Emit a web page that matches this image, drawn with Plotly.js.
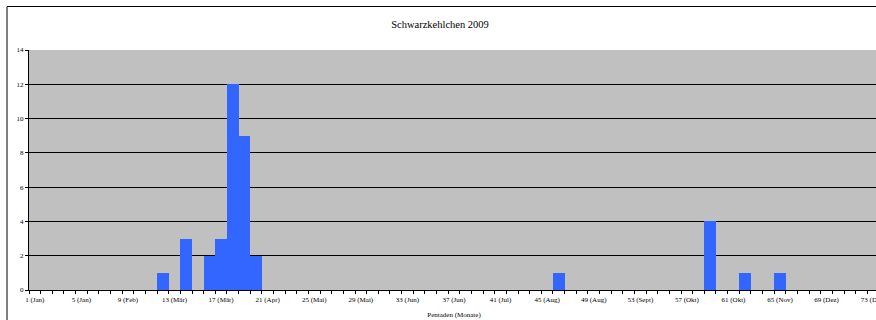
<!DOCTYPE html>
<html>
<head>
<meta charset="utf-8">
<script src="https://cdn.plot.ly/plotly-3.0.1.min.js"></script>
<style>
html,body{margin:0;padding:0;overflow:hidden;background:#fff;}
#chart{width:900px;height:320px;}
</style>
</head>
<body>
<div id="chart"></div>
<script>
// Pentads with observations and counts
const pentads = [12, 14, 16, 17, 18, 19, 20, 46, 59, 62, 65];
const counts  = [1, 3, 2, 3, 12, 9, 2, 1, 4, 1, 1];

// Tick labels (every 4th pentad)
const tickPentads = [1, 5, 9, 13, 17, 21, 25, 29, 33, 37, 41, 45, 49, 53, 57, 61, 65, 69, 73];
const tickLabels = ["1 (Jan)", "5 (Jan)", "9 (Feb)", "13 (Mär)", "17 (Mär)", "21 (Apr)", "25 (Mai)",
  "29 (Mai)", "33 (Jun)", "37 (Jun)", "41 (Jul)", "45 (Aug)", "49 (Aug)", "53 (Sept)", "57 (Okt)",
  "61 (Okt)", "65 (Nov)", "69 (Dez)", "73 (Dez)"];
const yTicks = [0, 2, 4, 6, 8, 10, 12, 14];

const font = {family: "Liberation Serif, Times New Roman, serif", color: "#000"};

const trace = {
  type: "bar",
  x: pentads,
  y: counts,
  width: 1,
  marker: {color: "#3366FF", line: {width: 0}},
  hoverinfo: "x+y"
};

const layout = {
  width: 900,
  height: 320,
  margin: {l: 29, r: 21, t: 50, b: 30, pad: 0},
  paper_bgcolor: "#ffffff",
  plot_bgcolor: "#C0C0C0",
  showlegend: false,
  title: {
    text: "Schwarzkehlchen 2009",
    font: Object.assign({}, font, {size: 10.5}),
    x: 440 / 900, xanchor: "center",
    y: 1 - 24.5 / 320, yanchor: "middle"
  },
  xaxis: {
    range: [0.5, 73.5],
    tickmode: "array",
    tickvals: tickPentads,
    ticktext: tickLabels,
    ticks: "",
    ticklabelstandoff: 3,
    showgrid: false,
    zeroline: false,
    showline: true,
    linecolor: "#000",
    linewidth: 1,
    tickfont: Object.assign({}, font, {size: 7}),
    tickangle: 0,
    minor: {tickmode: "linear", tick0: 0.5, dtick: 1, ticks: "outside", ticklen: 3, tickcolor: "#000", tickwidth: 1, showgrid: false},
    title: {text: "Pentaden (Monate)", font: Object.assign({}, font, {size: 7}), standoff: 8},
    fixedrange: true
  },
  yaxis: {
    range: [0, 14],
    tickmode: "array",
    tickvals: yTicks,
    ticks: "outside",
    ticklen: 3,
    tickcolor: "#000",
    tickwidth: 1,
    showgrid: true,
    gridcolor: "#000",
    gridwidth: 1,
    zeroline: false,
    showline: true,
    linecolor: "#000",
    linewidth: 1,
    tickfont: Object.assign({}, font, {size: 7}),
    fixedrange: true
  },
  shapes: [
    {type: "rect", xref: "paper", yref: "paper",
     x0: (7 - 29) / 850, x1: 1.2, y0: -0.3, y1: (290 - 6.5) / 240,
     line: {color: "#000", width: 1}, fillcolor: "rgba(0,0,0,0)", layer: "below"}
  ],
  bargap: 0
};

Plotly.newPlot("chart", [trace], layout, {displayModeBar: false, staticPlot: true});
</script>
</body>
</html>
